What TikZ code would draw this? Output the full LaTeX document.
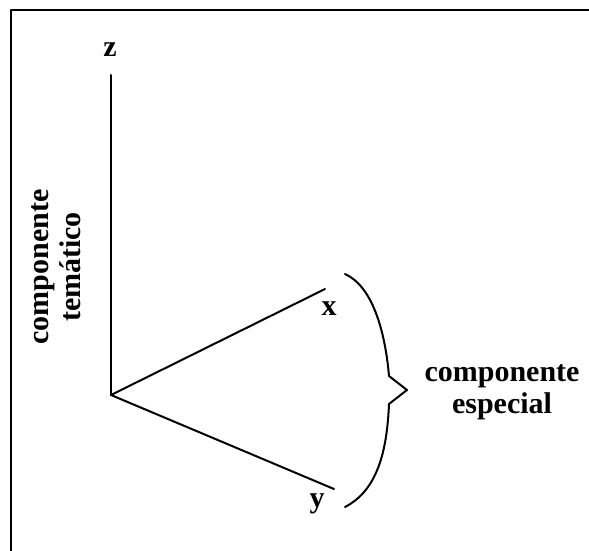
\documentclass[tikz,border=0pt]{standalone}
\usepackage{fontspec}
\setmainfont{Liberation Serif}
\usetikzlibrary{positioning}
\tikzset{
    diagram/.style={x=1pt, y=-1pt, line cap=round, line join=round,
                    font=\fontsize{30}{32}\selectfont\bfseries},
    axis/.style={draw=black, line width=2pt},
    axislabel/.style={inner sep=0pt, anchor=center},
    bracket/.style={draw=black, line width=2pt},
    comptext/.style={align=center, inner sep=0pt},
    frame/.style={draw=black, line width=2pt, line cap=butt},
}

\begin{document}
\begin{tikzpicture}[diagram]

\useasboundingbox (0,0) rectangle (589,551);

% ─── Cadre (haut et gauche) ─────────────────────────────────────────────
\draw[frame] (11,551) -- (11,10) -- (589,10);

% ─── Axes ───────────────────────────────────────────────────────────────
\coordinate (origin) at (111,395);
\coordinate (zend)   at (111,75);
\coordinate (xend)   at (325,289);
\coordinate (yend)   at (334,489);

\draw[axis] (origin) -- (zend);
\draw[axis] (origin) -- (xend);
\draw[axis] (origin) -- (yend);

% ─── Noms des axes ──────────────────────────────────────────────────────
\node[axislabel] (zlab) at (110,50)  {z};
\node[axislabel] (xlab) at (329,309) {x};
\node[axislabel] (ylab) at (317,504) {y};

% ─── Accolade ───────────────────────────────────────────────────────────
\coordinate (btop) at (345,274);
\coordinate (btip) at (407,390);
\coordinate (bbot) at (345,507);
\draw[bracket] (btop) .. controls (372,286) and (385,330) .. (389,376)
               -- (btip) -- (389,404)
               .. controls (387,450) and (378,490) .. (bbot);

% ─── Textes ─────────────────────────────────────────────────────────────
\node[comptext] (spatial) at (502,392) {componente\\especial};
\node[comptext, rotate=90] (thematic) at (56,267) {componente\\temático};

\end{tikzpicture}
\end{document}
